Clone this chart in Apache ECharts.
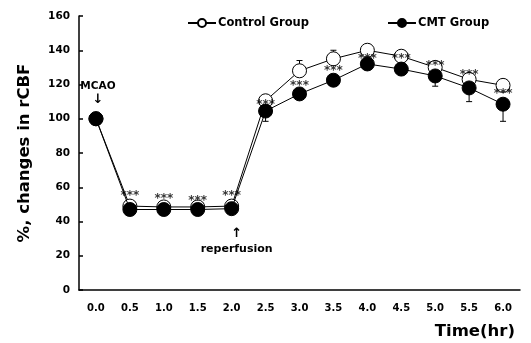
<!DOCTYPE html>
<html>
<head>
<meta charset="utf-8">
<script src="https://cdn.jsdelivr.net/npm/echarts@6/dist/echarts.min.js"></script>
<style>html,body{margin:0;padding:0;background:#fff}#c{width:531px;height:343px}</style>
</head>
<body>
<div id="c"></div>
<script>
var categories = ['0.0','0.5','1.0','1.5','2.0','2.5','3.0','3.5','4.0','4.5','5.0','5.5','6.0'];
var yTicks = [0,20,40,60,80,100,120,140,160];
var control = [100, 49, 48.5, 48.5, 49, 110.5, 128, 135, 140, 136.5, 130, 123, 119.5];
var controlErr = [3, 1.5, 1.5, 1.5, 1.5, 1, 6, 5, 1, 2, 3, 2, 3];
var cmt = [100, 47, 47, 47, 47.5, 104.5, 114.5, 122.5, 132, 129, 125, 118, 108.5];
var cmtErr = [2, 2, 3, 2, 3, 6, 2, 3, 3, 3.5, 6, 8, 10];
var stars = [null, 56.5, 55, 54, 56.5, 110, 121, 129.5, 137, 137, 132.5, 127.5, 116];
var annotations = [
  {text:'MCAO', x:'0.0', y:119},
  {text:'\u2193', x:'0.0', y:111},
  {text:'\u2191', x:'2.0', y:33},
  {text:'reperfusion', x:'2.0', y:24}
];

var FONT = 'DejaVu Sans';
var chart = echarts.init(document.getElementById('c'), null, {renderer:'canvas'});

function errData(vals, errs, up) {
  return vals.map(function(v, i){ return [i, v, up ? v + errs[i] : v - errs[i]]; });
}
function errRender(params, api) {
  var x = api.value(0);
  var p0 = api.coord([x, api.value(1)]);
  var p1 = api.coord([x, api.value(2)]);
  var w = 3;
  var st = {stroke:'#000', lineWidth:1};
  return {type:'group', children:[
    {type:'line', shape:{x1:p0[0], y1:p0[1], x2:p1[0], y2:p1[1]}, style:st},
    {type:'line', shape:{x1:p1[0]-w, y1:p1[1], x2:p1[0]+w, y2:p1[1]}, style:st}
  ]};
}

var option = {
  animation:false,
  backgroundColor:'#fff',
  grid:{left:79, right:11, top:16, bottom:53, containLabel:false},
  legend:{
    left:182, top:12, itemGap:78, itemWidth:28, itemHeight:10,
    data:['Control Group','CMT Group'],
    textStyle:{fontFamily:FONT, fontWeight:'bold', fontSize:11.5, color:'#000', padding:[0,0,0,-3]}
  },
  xAxis:{
    type:'category', data:categories, boundaryGap:true,
    axisLine:{lineStyle:{color:'#000', width:1.5}},
    axisTick:{inside:true, length:4, lineStyle:{color:'#000', width:1.5}},
    axisLabel:{margin:13, fontFamily:FONT, fontWeight:'bold', fontSize:10, color:'#000'},
    name:'Time(hr)', nameLocation:'end', nameGap:-5,
    nameTextStyle:{fontFamily:FONT, fontWeight:'bold', fontSize:16.5, color:'#000', align:'right', verticalAlign:'top', padding:[33,0,0,0]}
  },
  yAxis:{
    type:'value', min:yTicks[0], max:yTicks[yTicks.length-1], interval:20,
    splitLine:{show:false},
    axisLine:{show:true, lineStyle:{color:'#000', width:1.5}},
    axisTick:{show:true, inside:true, length:4, lineStyle:{color:'#000', width:1.5}},
    axisLabel:{margin:9, fontFamily:FONT, fontWeight:'bold', fontSize:10.5, color:'#000'},
    name:'%, changes in rCBF', nameLocation:'middle', nameGap:46, nameRotate:90,
    nameTextStyle:{fontFamily:FONT, fontWeight:'bold', fontSize:16.5, color:'#000'}
  },
  series:[
    {type:'custom', name:'ctrlErr', renderItem:errRender, data:errData(control, controlErr, true), z:1, silent:true},
    {type:'custom', name:'cmtErr', renderItem:errRender, data:errData(cmt, cmtErr, false), z:1, silent:true},
    {
      type:'line', name:'Control Group', data:control, z:3,
      symbol:'circle', symbolSize:14, showAllSymbol:true,
      lineStyle:{color:'#000', width:1},
      itemStyle:{color:'#fff', borderColor:'#000', borderWidth:1}
    },
    {
      type:'line', name:'CMT Group', data:cmt, z:4,
      symbol:'circle', symbolSize:14, showAllSymbol:true,
      lineStyle:{color:'#000', width:1},
      itemStyle:{color:'#000', borderColor:'#000', borderWidth:1},
      markPoint:{
        symbol:'circle', symbolSize:0,
        data:annotations.map(function(a){
          var isRep = a.x === '2.0';
          return {coord:[a.x, a.y], value:a.text,
            label:{show:true, formatter:a.text, position:'inside', offset:[isRep?5:(a.text.length===1?2:2), 0],
              fontFamily:FONT, fontWeight:'bold', fontSize:(a.text.length===1?13:(isRep?11:10.5)), color:'#000'}};
        })
      }
    },
    {
      type:'scatter', name:'sig', data:stars.map(function(v,i){return v==null?null:[i,v];}), z:5,
      symbolSize:0, silent:true,
      label:{show:true, formatter:'***', position:'inside', offset:[0,3],
        fontFamily:FONT, fontWeight:'bold', fontSize:12, color:'#000'}
    }
  ]
};
chart.setOption(option);
</script>
</body>
</html>
